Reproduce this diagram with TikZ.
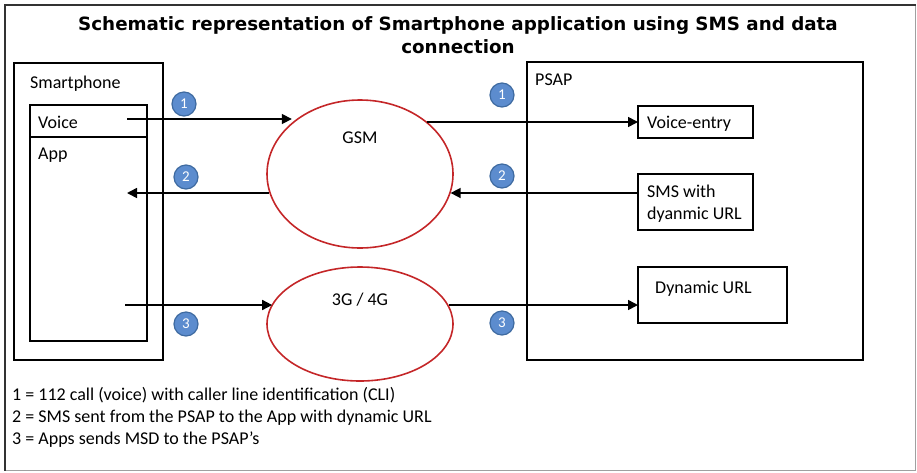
\documentclass[tikz,border=0pt]{standalone}
\usepackage{fontspec}
\setmainfont{Carlito}
\newfontfamily\titlefont{DejaVu Sans}
\usetikzlibrary{arrows.meta,shapes.geometric}

\definecolor{ringred}{RGB}{196,38,40}
\definecolor{badgefill}{RGB}{92,140,206}
\definecolor{badgeline}{RGB}{62,106,160}
\definecolor{framedark}{RGB}{51,51,51}
\definecolor{framelight}{RGB}{160,160,160}

\tikzset{
  box/.style={draw=black, line width=1.3pt, inner sep=0pt, outer sep=0pt},
  net/.style={draw=ringred, line width=1.6pt, ellipse, inner sep=0pt},
  txt/.style={inner sep=0pt, anchor=base west, font=\fontsize{18}{22}\selectfont},
  ctxt/.style={inner sep=0pt, anchor=base, font=\fontsize{18}{22}\selectfont},
  badge/.style={circle, fill=badgefill, draw=badgeline, line width=1.2pt,
    minimum size=24pt, inner sep=0pt, text=white, font=\fontsize{15}{15}\selectfont},
  arr/.style={line width=1.6pt, -{Triangle[length=10pt,width=10pt]}},
}

\begin{document}
\begin{tikzpicture}[x=1pt, y=-1pt]
  \useasboundingbox (0,0) rectangle (917,472);

  % outer frame: dark top/left edges, light bottom/right edges
  \draw[framelight, line width=1.2pt] (915.5,5) -- (915.5,470.5) -- (5,470.5);
  \draw[framedark, line width=2pt] (5,470.5) -- (5,5) -- (915.5,5);

  % title
  \node[inner sep=0pt, align=center, anchor=north,
        font=\titlefont\bfseries\fontsize{18.3}{23.5}\selectfont] (title) at (458,16)
    {Schematic representation of Smartphone application using SMS and data\\connection};

  % smartphone side
  \node[box, minimum width=149pt, minimum height=297pt, anchor=north west] (phone) at (14,63) {};
  \node[box, minimum width=117pt, minimum height=32pt, anchor=north west] (voice) at (30,105) {};
  \node[box, minimum width=117pt, minimum height=204pt, anchor=north west] (app) at (30,137) {};
  \node[txt] (phonelbl) at (30,88) {Smartphone};
  \node[txt] (voicelbl) at (38,128) {Voice};
  \node[txt] (applbl) at (38,159) {App};

  % networks
  \node[net, minimum width=186pt, minimum height=148pt] (gsm) at (360,174) {};
  \node[net, minimum width=186pt, minimum height=114pt] (data) at (360,324) {};
  \node[ctxt] (gsmlbl) at (360,143) {GSM};
  \node[ctxt] (datalbl) at (360,305) {3G / 4G};

  % PSAP side
  \node[box, minimum width=336pt, minimum height=298pt, anchor=north west] (psap) at (527,62) {};
  \node[txt] (psaplbl) at (535,85) {PSAP};
  \node[box, minimum width=115pt, minimum height=32pt, anchor=north west] (ventry) at (638,106) {};
  \node[txt] (ventrylbl) at (647,128) {Voice-entry};
  \node[box, minimum width=115pt, minimum height=56pt, anchor=north west] (sms) at (638,174) {};
  \node[txt] (smslbl1) at (647,197) {SMS with};
  \node[txt] (smslbl2) at (647,219) {dyanmic URL};
  \node[box, minimum width=149pt, minimum height=56pt, anchor=north west] (dyn) at (638,267) {};
  \node[txt] (dynlbl) at (655,293) {Dynamic URL};

  % free ends of the connectors inside the phone
  \coordinate (p1) at (127,119);
  \coordinate (p2) at (127,193);
  \coordinate (p3) at (125,305);

  % connectors
  \draw[arr, shorten >=6pt] (p1) -- (p1 -| gsm.138.5);
  \draw[arr] (ventry.west -| gsm.38.2) -- (ventry.west);
  \draw[arr] (p2 -| gsm.191.9) -- (p2);
  \draw[arr] (p2 -| sms.west) -- (p2 -| gsm.348.1);
  \draw[arr] (p3) -- (p3 -| data.167.8);
  \draw[arr] (p3 -| data.12.2) -- (p3 -| dyn.west);

  % step badges
  \node[badge] (b1l) at (184,104) {1};
  \node[badge] (b2l) at (186,177) {2};
  \node[badge] (b3l) at (186,324) {3};
  \node[badge] (b1r) at (502,95) {1};
  \node[badge] (b2r) at (502,176) {2};
  \node[badge] (b3r) at (502,323) {3};

  % legend
  \node[txt] (leg1) at (12,400.5) {1 = 112 call (voice) with caller line identification (CLI)};
  \node[txt] (leg2) at (12,422.5) {2 = SMS sent from the PSAP to the App with dynamic URL};
  \node[txt] (leg3) at (12,444.5) {3 = Apps sends MSD to the PSAP’s};
\end{tikzpicture}
\end{document}
